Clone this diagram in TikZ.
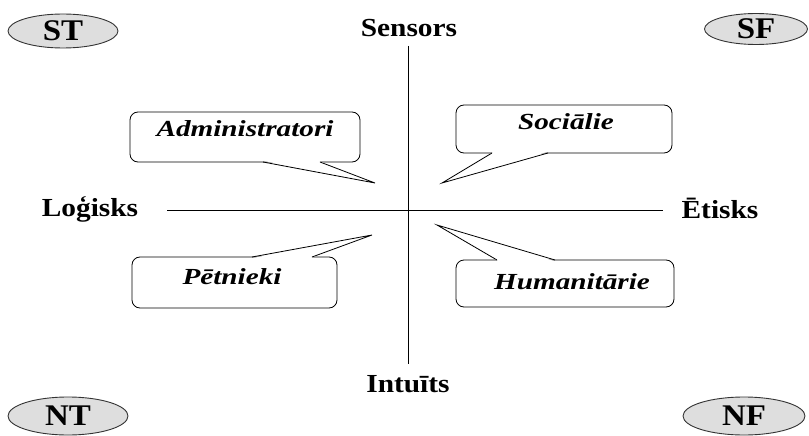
\documentclass[tikz,border=0pt]{standalone}
\usepackage{fontspec}
\setmainfont{Liberation Serif}
\newfontfamily\axisfont[FakeStretch=1.13]{Liberation Serif}
\newfontfamily\bubblefont[FakeStretch=1.27]{Liberation Serif}
\newfontfamily\typefont[FakeStretch=1.1]{Liberation Serif}
\usetikzlibrary{shapes.geometric}
\definecolor{typefill}{gray}{0.87}
\begin{document}
\begin{tikzpicture}[x=1pt,y=-1pt,
  typebox/.style={ellipse,draw=black!80,line width=0.9pt,fill=typefill,inner sep=0pt,
    font=\typefont\bfseries\fontsize{30}{30}\selectfont},
  axislabel/.style={anchor=base,inner sep=0pt,font=\axisfont\bfseries\fontsize{26}{30}\selectfont},
  bubble/.style={draw,line width=0.8pt,fill=white,rounded corners=8pt,inner sep=0pt},
  tail/.style={line width=0.8pt,line join=miter},
  bubbletext/.style={anchor=base,inner sep=0pt,font=\bubblefont\bfseries\itshape\fontsize{23}{26}\selectfont},
  axis/.style={line width=0.8pt}]
\useasboundingbox (0,0) rectangle (809,436);

% corner type ellipses
\node[typebox,minimum width=110,minimum height=34] (st) at (63,31) {ST};
\node[typebox,minimum width=103,minimum height=31] (sf) at (756,29) {SF};
\node[typebox,minimum width=120,minimum height=38] (nt) at (68,416) {NT};
\node[typebox,minimum width=122,minimum height=38] (nf) at (744,416) {NF};

% axes
\coordinate (top) at (408,46);
\coordinate (bottom) at (408,364);
\coordinate (left) at (167,210);
\coordinate (right) at (663,210);
\draw[axis] (top) -- (bottom);
\draw[axis] (left) -- (right);

% axis labels
\node[axislabel] (sens) at (409,37) {Sensors};
\node[axislabel] (intu) at (408,392) {Intuīts};
\node[axislabel] (logi) at (90,216) {Loģisks};
\node[axislabel] (etis) at (720,218) {Ētisks};

% speech bubbles: box, tail with its base hidden, tail sides
\node[bubble,minimum width=230,minimum height=50] (adm) at (245,137) {};
\fill[white] (264,161) -- (375,183) -- (319,161) -- cycle;
\draw[tail] (263,162) -- (375,183) -- (320,162);
\node[bubbletext] at (245,136) {Administratori};

\node[bubble,minimum width=216,minimum height=48] (soc) at (564,129) {};
\fill[white] (493,152) -- (442,183) -- (547,152) -- cycle;
\draw[tail] (492,153) -- (442,183) -- (548,153);
\node[bubbletext] at (566,129) {Sociālie};

\node[bubble,minimum width=205,minimum height=51] (pet) at (234.5,282.5) {};
\fill[white] (253,258) -- (372,235) -- (311,258) -- cycle;
\draw[tail] (252,257) -- (372,235) -- (312,257);
\node[bubbletext] at (232,284) {Pētnieki};

\node[bubble,minimum width=218,minimum height=47] (hum) at (565,283.5) {};
\fill[white] (498,261) -- (437,225) -- (554,261) -- cycle;
\draw[tail] (497,260) -- (437,225) -- (555,260);
\node[bubbletext] at (572,289) {Humanitārie};
\end{tikzpicture}
\end{document}
